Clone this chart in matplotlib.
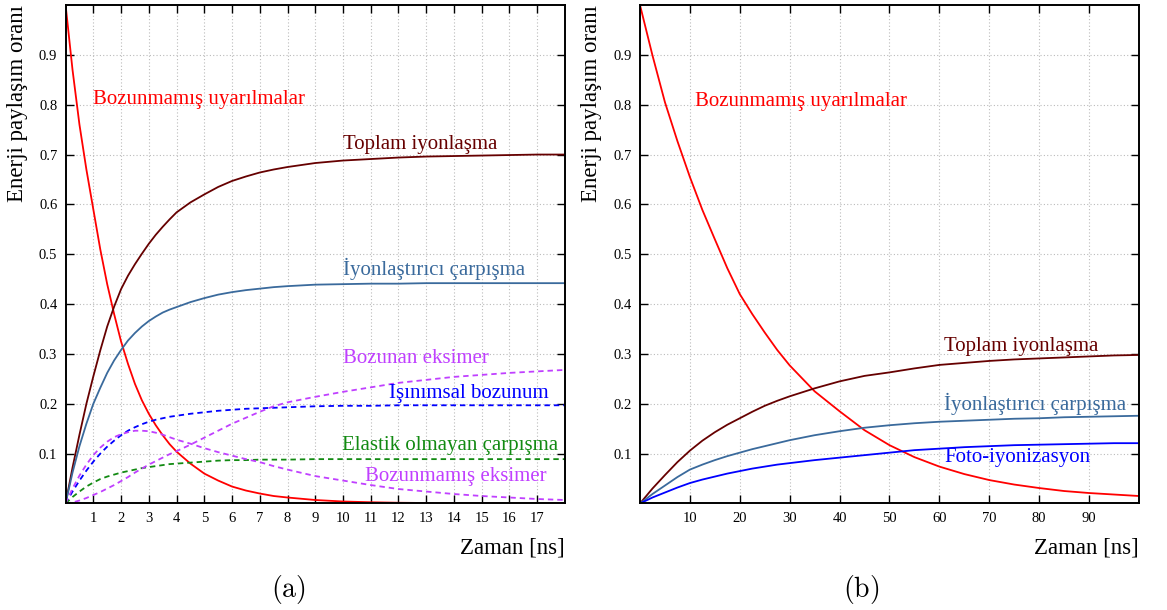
import numpy as np
import matplotlib
matplotlib.use("Agg")
import matplotlib.pyplot as plt

plt.rcParams['font.family'] = ['Liberation Serif', 'DejaVu Serif']
plt.rcParams['mathtext.fontset'] = 'cm'

# (a) zaman [ns] ve oranlar
t_a = [0, 0.25, 0.5, 0.75, 1, 1.25, 1.5, 1.75, 2, 2.25, 2.5, 2.75, 3, 3.25, 3.5, 3.75, 4,
       4.5, 5, 5.5, 6, 6.5, 7, 7.5, 8, 9, 10, 11, 12, 13, 14, 15, 16, 17, 18]
uyarilma_a = [1.0, 0.87, 0.76, 0.67, 0.59, 0.51, 0.44, 0.38, 0.325, 0.28, 0.24, 0.207, 0.18, 0.157, 0.137,
              0.119, 0.104, 0.08, 0.06, 0.046, 0.034, 0.026, 0.02, 0.015, 0.012, 0.007, 0.004, 0.0025,
              0.0015, 0.001, 0.0006, 0.0004, 0.0002, 0.0001, 0.0001]
toplam_a = [0, 0.072, 0.138, 0.2, 0.255, 0.307, 0.355, 0.395, 0.43, 0.457, 0.48, 0.501, 0.521, 0.539, 0.555,
            0.57, 0.584, 0.604, 0.62, 0.635, 0.647, 0.656, 0.664, 0.67, 0.675, 0.683, 0.688, 0.691, 0.694,
            0.696, 0.697, 0.698, 0.699, 0.70, 0.70]
iyon_a = [0, 0.062, 0.115, 0.16, 0.20, 0.232, 0.262, 0.287, 0.308, 0.327, 0.342, 0.355, 0.366, 0.375, 0.383,
          0.389, 0.394, 0.404, 0.412, 0.419, 0.424, 0.428, 0.431, 0.434, 0.436, 0.439, 0.44, 0.441, 0.441,
          0.442, 0.442, 0.442, 0.442, 0.442, 0.442]
isinim_a = [0, 0.024, 0.046, 0.066, 0.084, 0.1, 0.114, 0.126, 0.137, 0.146, 0.153, 0.159, 0.164, 0.168, 0.171,
            0.174, 0.176, 0.18, 0.183, 0.186, 0.188, 0.19, 0.191, 0.192, 0.193, 0.195, 0.196, 0.196, 0.197,
            0.197, 0.197, 0.197, 0.197, 0.197, 0.197]
elastik_a = [0, 0.013, 0.024, 0.034, 0.042, 0.049, 0.054, 0.058, 0.062, 0.065, 0.068, 0.071, 0.073, 0.075,
             0.077, 0.079, 0.08, 0.082, 0.084, 0.086, 0.087, 0.087, 0.088, 0.088, 0.088, 0.089, 0.089, 0.089,
             0.089, 0.089, 0.089, 0.089, 0.089, 0.089, 0.089]
eksimer_a = [0, 0.03, 0.056, 0.078, 0.097, 0.112, 0.124, 0.133, 0.139, 0.143, 0.146, 0.146, 0.145, 0.142,
             0.138, 0.133, 0.128, 0.12, 0.111, 0.103, 0.096, 0.089, 0.083, 0.075, 0.068, 0.055, 0.046, 0.037,
             0.029, 0.024, 0.019, 0.015, 0.012, 0.009, 0.007]
bozunan_a = [0, 0.002, 0.006, 0.011, 0.017, 0.023, 0.03, 0.037, 0.045, 0.053, 0.062, 0.07, 0.078, 0.085,
             0.092, 0.099, 0.105, 0.118, 0.132, 0.146, 0.16, 0.172, 0.184, 0.195, 0.203, 0.214, 0.224, 0.233,
             0.242, 0.248, 0.254, 0.258, 0.262, 0.265, 0.268]

# (b)
t_b = [0, 2.5, 5, 7.5, 10, 12.5, 15, 17.5, 20, 22.5, 25, 27.5, 30, 35, 40, 45, 50, 55, 60, 65, 70, 75,
       80, 85, 90, 95, 100]
uyarilma_b = [1.0, 0.899, 0.805, 0.727, 0.655, 0.589, 0.53, 0.472, 0.42, 0.38, 0.343, 0.308, 0.277, 0.225,
              0.185, 0.147, 0.117, 0.093, 0.074, 0.059, 0.047, 0.038, 0.031, 0.025, 0.021, 0.018, 0.015]
toplam_b = [0, 0.03, 0.057, 0.083, 0.106, 0.126, 0.143, 0.158, 0.171, 0.184, 0.196, 0.206, 0.215, 0.231,
            0.245, 0.256, 0.263, 0.271, 0.278, 0.282, 0.286, 0.289, 0.291, 0.293, 0.295, 0.297, 0.298]
iyon_b = [0, 0.019, 0.036, 0.053, 0.068, 0.078, 0.087, 0.095, 0.102, 0.109, 0.115, 0.121, 0.127, 0.137,
          0.145, 0.152, 0.157, 0.161, 0.164, 0.166, 0.168, 0.170, 0.171, 0.173, 0.174, 0.175, 0.176]
foto_b = [0, 0.012, 0.022, 0.032, 0.041, 0.048, 0.054, 0.06, 0.065, 0.07, 0.074, 0.078, 0.081, 0.087,
          0.092, 0.097, 0.102, 0.107, 0.11, 0.113, 0.115, 0.117, 0.118, 0.119, 0.120, 0.121, 0.121]

KIRMIZI = '#ff0000'
KOYU = '#660000'
CELIK = '#3a6a9c'
MAVI = '#0000ff'
YESIL = '#128a12'
MOR = '#c040ff'

fig = plt.figure(figsize=(11.67, 6.10), dpi=100)
ax1 = fig.add_axes([0.0562, 0.1746, 0.4279, 0.8172])
ax2 = fig.add_axes([0.5484, 0.1746, 0.4276, 0.8172])

lw = 1.3
dash = (3, 2.2)

ax1.plot(t_a, uyarilma_a, color=KIRMIZI, lw=lw)
ax1.plot(t_a, toplam_a, color=KOYU, lw=lw)
ax1.plot(t_a, iyon_a, color=CELIK, lw=lw)
ax1.plot(t_a, isinim_a, color=MAVI, lw=lw, dashes=dash)
ax1.plot(t_a, elastik_a, color=YESIL, lw=lw, dashes=dash)
ax1.plot(t_a, eksimer_a, color=MOR, lw=lw, dashes=dash)
ax1.plot(t_a, bozunan_a, color=MOR, lw=lw, dashes=dash)

fs = 15
ax1.text(0.99, 0.81, 'Bozunmamış uyarılmalar', color=KIRMIZI, fontsize=fs, va='center')
ax1.text(10.0, 0.72, 'Toplam iyonlaşma', color=KOYU, fontsize=fs, va='center')
ax1.text(10.0, 0.471, 'İyonlaştırıcı çarpışma', color=CELIK, fontsize=fs, va='center')
ax1.text(10.0, 0.291, 'Bozunan eksimer', color=MOR, fontsize=fs, va='center')
ax1.text(17.4, 0.221, 'Işınımsal bozunum', color=MAVI, fontsize=fs, va='center', ha='right')
ax1.text(17.74, 0.117, 'Elastik olmayan çarpışma', color=YESIL, fontsize=fs, va='center', ha='right')
ax1.text(10.8, 0.055, 'Bozunmamış eksimer', color=MOR, fontsize=fs, va='center')

ax2.plot(t_b, uyarilma_b, color=KIRMIZI, lw=lw)
ax2.plot(t_b, toplam_b, color=KOYU, lw=lw)
ax2.plot(t_b, iyon_b, color=CELIK, lw=lw)
ax2.plot(t_b, foto_b, color=MAVI, lw=lw)

ax2.text(11.05, 0.807, 'Bozunmamış uyarılmalar', color=KIRMIZI, fontsize=fs, va='center')
ax2.text(60.9, 0.315, 'Toplam iyonlaşma', color=KOYU, fontsize=fs, va='center')
ax2.text(60.9, 0.199, 'İyonlaştırıcı çarpışma', color=CELIK, fontsize=fs, va='center')
ax2.text(60.9, 0.093, 'Foto-iyonizasyon', color=MAVI, fontsize=fs, va='center')

for ax, xmax, xt in [(ax1, 18, np.arange(1, 18)), (ax2, 100, np.arange(10, 100, 10))]:
    ax.set_xlim(0, xmax)
    ax.set_ylim(0, 1)
    ax.set_xticks(xt)
    ax.set_yticks(np.round(np.arange(0.1, 1.0, 0.1), 1))
    ax.tick_params(direction='in', top=True, right=True, length=6, width=1.0,
                   labelsize=10.5, pad=6)
    ax.grid(True, linestyle=(0, (1, 2)), color='#bbbbbb', lw=0.8)
    for s in ax.spines.values():
        s.set_linewidth(1.4)
    ax.set_xlabel('Zaman [ns]', fontsize=16.5, loc='right', labelpad=9)
    ax.set_ylabel('Enerji paylaşım oranı', fontsize=16.5, loc='top', labelpad=8)

fig.text(0.2468, 0.033, r'$\mathrm{(a)}$', fontsize=20, ha='center', va='center')
fig.text(0.7378, 0.033, r'$\mathrm{(b)}$', fontsize=20, ha='center', va='center')

fig.savefig('out.png', dpi=100)
